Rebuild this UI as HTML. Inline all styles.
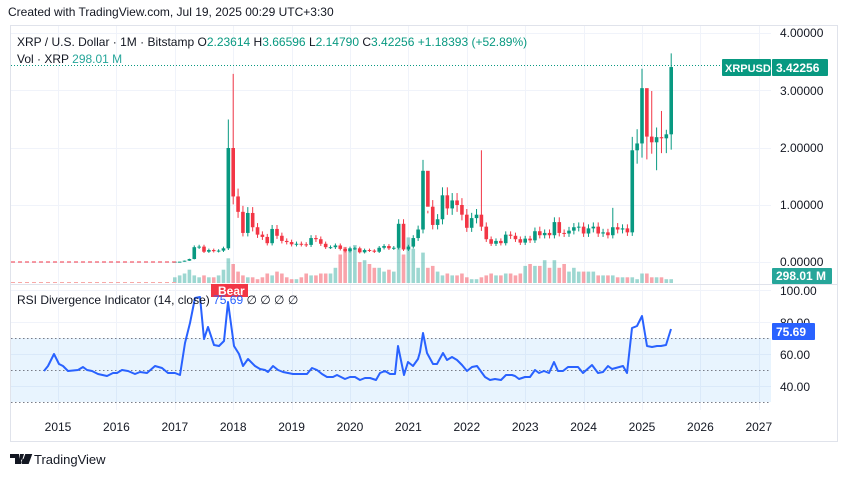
<!DOCTYPE html>
<html><head><meta charset="utf-8">
<style>
body{margin:0;width:848px;height:477px;background:#fff;overflow:hidden;font-family:"Liberation Sans",sans-serif}
svg{position:absolute;left:0;top:0}
</style></head><body>
<svg id="s" width="848" height="477" xmlns="http://www.w3.org/2000/svg" font-family="Liberation Sans, sans-serif">
<rect x="10.5" y="25.5" width="827" height="416" fill="#fff" stroke="#e0e3eb"/>
<g id="grid" stroke="#f0f3fa" stroke-width="1"></g>
<rect x="11" y="338" width="760" height="64" fill="#2196f3" fill-opacity="0.1"/>
<g stroke="#787b86" stroke-dasharray="1.5,2.5" stroke-width="1">
<line x1="11" x2="771" y1="338.5" y2="338.5"/><line x1="11" x2="771" y1="370.5" y2="370.5"/><line x1="11" x2="771" y1="402.5" y2="402.5"/></g>
<line x1="10" x2="838" y1="284.5" y2="284.5" stroke="#e0e3eb"/>
<g id="vol"></g>
<g id="cdl"></g>
<line x1="11" x2="722" y1="65.5" y2="65.5" stroke="#089981" stroke-dasharray="1,2"/>
<polyline id="rsi" fill="none" stroke="#2962ff" stroke-width="2" stroke-linejoin="round"/>
<text x="8" y="16" font-size="12" fill="#131722">Created with TradingView.com, Jul 19, 2025 00:29 UTC+3:30</text>
<text x="17" y="46" font-size="12" fill="#131722">XRP / U.S. Dollar · 1M · Bitstamp  O<tspan fill="#089981">2.23614</tspan>  H<tspan fill="#089981">3.66596</tspan>  L<tspan fill="#089981">2.14790</tspan>  C<tspan fill="#089981">3.42256  +1.18393 (+52.89%)</tspan></text>
<text x="17" y="63" font-size="12" fill="#131722">Vol · XRP  <tspan fill="#26a69a">298.01 M</tspan></text>
<g font-size="12" fill="#131722">
<text x="780" y="37">4.00000</text><text x="780" y="95">3.00000</text><text x="780" y="152">2.00000</text><text x="780" y="209">1.00000</text><text x="780" y="266">0.00000</text>
<text x="780" y="295">100.00</text><text x="780" y="327">80.00</text><text x="780" y="359">60.00</text><text x="780" y="391">40.00</text>
</g>
<rect x="722" y="59" width="49" height="17" fill="#089981" rx="1"/><text x="725" y="72" font-size="11" fill="#fff" font-weight="bold">XRPUSD</text>
<rect x="772" y="59" width="56" height="17" fill="#089981" rx="1"/><text x="776" y="72" font-size="12" fill="#fff" font-weight="bold">3.42256</text>
<rect x="772" y="268" width="60" height="16" fill="#26a69a" rx="1"/><text x="776" y="280" font-size="12" fill="#fff" font-weight="bold">298.01 M</text>
<rect x="772" y="323" width="43" height="17" fill="#2962ff" rx="1"/><text x="776" y="336" font-size="12" fill="#fff" font-weight="bold">75.69</text>
<rect x="211" y="284" width="37" height="13" fill="#f23645"/><text x="218" y="295" font-size="12" fill="#fff" font-weight="bold">Bear</text>
<text x="17" y="304" font-size="12" fill="#131722">RSI Divergence Indicator (14, close)  <tspan fill="#2962ff">75.69</tspan>  ∅  ∅  ∅  ∅</text>
<g id="yrs" font-size="12" fill="#131722" text-anchor="middle"></g>
<g transform="translate(10,452)"><path d="M0 2h9v10h-4v-6h-5z M10 2h4l-3 10h-3z M13 7a2 2 0 1 0 0.1 0" fill="#131722"/><rect x="16" y="2" width="7" height="10" fill="#131722" transform="skewX(-20)"/></g>
<text x="34" y="464" font-size="13" fill="#131722">TradingView</text>
</svg>
<script>
var NS="http://www.w3.org/2000/svg";
function el(p,t,a){var e=document.createElementNS(NS,t);for(var k in a)e.setAttribute(k,a[k]);document.getElementById(p).appendChild(e);return e;}
function X(t){return 58+(t-2015)*58.4;}
function Y(p){return 262-57*p;}
[33.5,90.5,148.5,205.5,262.5,290.5,322.5,354.5,386.5].forEach(function(y){el("grid","line",{x1:11,x2:771,y1:y,y2:y});});
for(var yr=2015;yr<=2027;yr++){var x=Math.round(X(yr))+0.5;el("grid","line",{x1:x,x2:x,y1:26,y2:410});var t=el("yrs","text",{x:X(yr),y:431});t.textContent=yr;}
var c=[.0063,.0063,.023,.052,.26,.27,.18,.21,.19,.20,.24,2.0,
1.15,.88,.51,.86,.61,.48,.44,.33,.58,.46,.37,.35,
.31,.32,.31,.30,.42,.40,.32,.26,.26,.29,.23,.19,
.24,.24,.17,.21,.20,.18,.25,.28,.24,.25,.67,.22,
.27,.42,.57,1.60,.97,.65,.75,1.17,.94,1.08,1.00,.83,
.60,.77,.83,.62,.40,.32,.37,.33,.48,.46,.40,.34,
.41,.38,.54,.47,.51,.47,.70,.51,.50,.55,.61,.62,
.50,.59,.62,.50,.52,.47,.61,.57,.59,.52,1.96,2.08,
3.05,2.20,2.10,2.19,2.17,2.24,3.42];
var H={11:2.5,12:3.3,52:.9,63:1.96,96:3.39,97:3.0,98:3.0,99:2.36,100:2.65,101:2.32,102:3.66,75:.62,90:.95};
var L={99:1.61,101:1.91,97:1.8,98:1.9};
var V=[3,4,5,7,4,3,4,3,3,4,7,13,10,6,4,3,3,2,3,5,4,6,5,3,2,2,3,5,4,4,5,5,5,8,15,19,17,20,11,12,10,8,8,6,7,6,20,15,24,18,8,16,8,9,6,4,5,4,4,5,3,2,2,3,4,5,4,4,5,5,4,5,9,10,9,9,12,8,12,8,10,6,8,6,6,6,6,4,4,4,4,3,3,3,3,2,5,5,3,3,3,2,2,2];
var prev=.0058;
for(var i=0;i<c.length;i++){var o=prev,cl=c[i],x=X(2017+i/12),up=cl>=o,col=up?"#089981":"#f23645";
var h=H[i]||Math.max(o,cl)*1.12,l=L[i]||Math.min(o,cl)*0.88;
el("cdl","line",{x1:x,x2:x,y1:Y(h),y2:Y(l),stroke:col,"stroke-width":1});
var yt=Y(Math.max(o,cl)),yb=Y(Math.min(o,cl));el("cdl","rect",{x:x-1.8,y:yt,width:3.6,height:Math.max(1,yb-yt),fill:col});
var vh=(V[i]||3)*1.9;
el("vol","rect",{x:x-1.8,y:283-vh,width:3.6,height:vh,fill:up?"#26a69a":"#f23645","fill-opacity":0.45});
prev=cl;}
el("cdl","line",{x1:11,x2:178,y1:262,y2:262,stroke:"#f23645","stroke-dasharray":"4,3"});
el("vol","line",{x1:11,x2:178,y1:282.5,y2:282.5,stroke:"#f7a9a7","stroke-dasharray":"4,3"});
var r="44,371 48,366 54,354 59,364 63,366 68,371 78,370 83,367 87,370 92,371 98,374 107,376 113,373 117,373 122,370 128,371 135,374 140,372 147,373 155,366 162,368 168,373 175,373 180,375 185,343 190,323 195,298 200,297 204,339 208,327 214,345 219,346 224,341 228,302 234,346 239,354 243,366 248,359 255,366 260,369 265,370 268,372 273,366 278,370 283,372 288,373 293,374 307,374 312,368 317,370 322,374 327,377 333,377 337,375 345,379 350,377 355,377 360,380 365,378 370,378 376,380 380,373 385,371 390,374 395,374 398,346 404,375 408,362 413,366 418,359 420,352 423,333 427,353 433,364 437,364 443,353 447,360 452,357 457,360 462,365 467,371 472,367 477,366 485,377 490,380 495,379 501,380 506,375 512,375 515,376 519,379 525,377 530,377 535,370 539,373 544,371 549,373 554,362 558,371 563,371 568,367 578,367 583,373 592,365 598,373 603,372 608,366 612,369 623,366 627,373 632,328 637,326 642,316 647,346 652,347 657,346 661,346 666,345 671,329";
document.getElementById("rsi").setAttribute("points",r);
</script>
</body></html>
